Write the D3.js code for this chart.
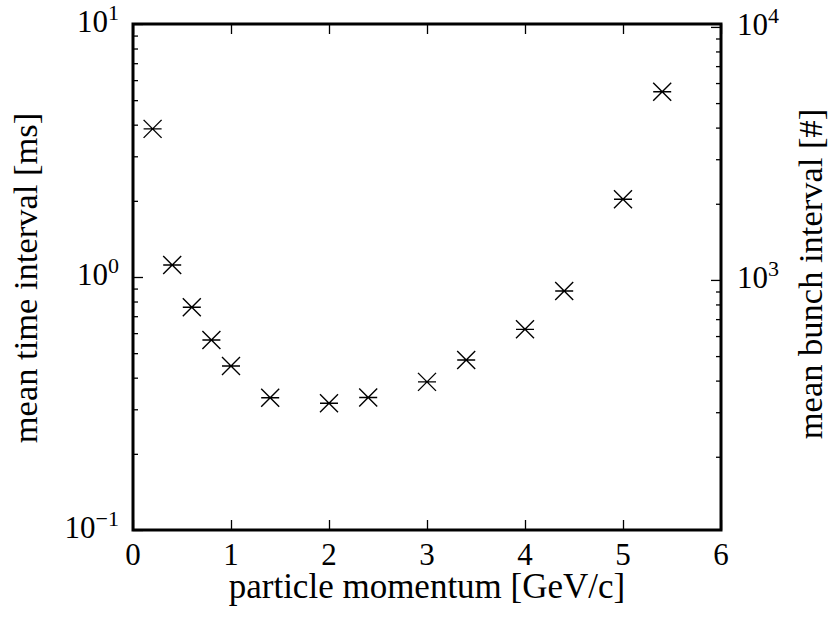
<!DOCTYPE html>
<head>
    <meta charset="utf-8">
    <title></title>
    <script src="https://d3js.org/d3.v7.min.js"></script>
    <style>
        body { margin: 0; background: #fff; }
        text { font-family: "Liberation Serif", "Times New Roman", serif; fill: #000; }
    </style>
</head>

<body>
    <div id="chart"></div>

    <script>
        // data
        var momentum = [0.2, 0.4, 0.6, 0.8, 1.0, 1.4, 2.0, 2.4, 3.0, 3.4, 4.0, 4.4, 5.0, 5.4];
        var meanTime = [3.85, 1.115, 0.759, 0.564, 0.445, 0.333, 0.317, 0.334, 0.385, 0.470, 0.621, 0.880, 2.03, 5.40];
        var xTicks = [0, 1, 2, 3, 4, 5, 6];
        var leftExp = [-1, 0, 1];
        var rightExp = [3, 4];
        var bunchesPerMs = 1027; // right axis = left axis * this

        var W = 830, H = 623;
        var margin = { top: 24, right: 109, bottom: 93, left: 133 },
            width = W - margin.left - margin.right,
            height = H - margin.top - margin.bottom;

        var svg = d3.select("#chart").append("svg")
            .attr("width", W).attr("height", H);
        svg.append("rect").attr("width", W).attr("height", H).attr("fill", "#fff");

        var g = svg.append("g")
            .attr("transform", "translate(" + margin.left + "," + margin.top + ")");

        var x = d3.scaleLinear().domain([0, 6]).range([0, width]);
        var yL = d3.scaleLog().domain([0.1, 10]).range([height, 0]);
        var yR = d3.scaleLog().domain([0.1 * bunchesPerMs, 10 * bunchesPerMs]).range([height, 0]);

        function minors(lo, hi, exps) {
            var out = [];
            exps.forEach(function (e) {
                for (var k = 2; k <= 9; k++) {
                    var v = k * Math.pow(10, e);
                    if (v > lo * 1.0001 && v < hi * 0.9999) out.push(v);
                }
            });
            return out;
        }

        function tickAxis(axis, tr, size) {
            var a = g.append("g").attr("transform", tr)
                .call(axis.tickSize(size).tickFormat(""));
            a.select(".domain").remove();
            a.selectAll(".tick line").attr("stroke", "#000").attr("stroke-width", 1.3);
            return a;
        }

        // x ticks, bottom and top, pointing inward
        tickAxis(d3.axisTop(x).tickValues(xTicks), "translate(0," + height + ")", 10);
        tickAxis(d3.axisBottom(x).tickValues(xTicks), "translate(0,0)", 10);

        // left log axis
        var lMaj = leftExp.map(function (e) { return Math.pow(10, e); });
        tickAxis(d3.axisRight(yL).tickValues(lMaj), "translate(0,0)", 10);
        tickAxis(d3.axisRight(yL).tickValues(minors(0.1, 10, [-1, 0])), "translate(0,0)", 5);

        // right log axis
        var rMaj = rightExp.map(function (e) { return Math.pow(10, e); });
        var rDom = yR.domain();
        tickAxis(d3.axisLeft(yR).tickValues(rMaj), "translate(" + width + ",0)", 10);
        tickAxis(d3.axisLeft(yR).tickValues(minors(rDom[0], rDom[1], [2, 3])), "translate(" + width + ",0)", 5);

        // frame
        g.append("rect")
            .attr("width", width).attr("height", height)
            .attr("fill", "none").attr("stroke", "#000").attr("stroke-width", 3);

        // tick labels
        g.selectAll(".xlab").data(xTicks).enter().append("text")
            .attr("x", function (d) { return x(d); })
            .attr("y", height + 35)
            .attr("text-anchor", "middle")
            .style("font-size", "31px")
            .text(function (d) { return d; });

        function powLabel(sel, xPos, anchor) {
            sel.attr("x", xPos).attr("text-anchor", anchor).style("font-size", "31px");
            sel.append("tspan").text("10");
            sel.append("tspan").attr("dy", -12).style("font-size", "22px")
                .text(function (d) { return d < 0 ? "\u2212" + (-d) : d; });
        }

        g.selectAll(".llab").data(leftExp).enter().append("text")
            .attr("y", function (d) { return yL(Math.pow(10, d)) + 8; })
            .call(powLabel, -14, "end");

        g.selectAll(".rlab").data(rightExp).enter().append("text")
            .attr("y", function (d) { return yR(Math.pow(10, d)) + 8; })
            .call(powLabel, width + 16, "start");

        // markers
        var marker = "M-9,-9L9,9M-9,9L9,-9M-9,0L9,0";
        g.selectAll(".pt").data(momentum).enter().append("path")
            .attr("transform", function (d, i) { return "translate(" + x(d) + "," + yL(meanTime[i]) + ")"; })
            .attr("d", marker)
            .attr("fill", "none").attr("stroke", "#000").attr("stroke-width", 1.4);

        // axis titles
        svg.append("text")
            .attr("x", margin.left + width / 2).attr("y", 598)
            .attr("text-anchor", "middle")
            .style("font-size", "35px")
            .text("particle momentum [GeV/c]");

        svg.append("text")
            .attr("transform", "translate(37,278) rotate(-90)")
            .attr("text-anchor", "middle")
            .style("font-size", "34.5px")
            .text("mean time interval [ms]");

        svg.append("text")
            .attr("transform", "translate(822,274) rotate(-90)")
            .attr("text-anchor", "middle")
            .style("font-size", "34.5px")
            .text("mean bunch interval [#]");
    </script>
</body>

</html>
